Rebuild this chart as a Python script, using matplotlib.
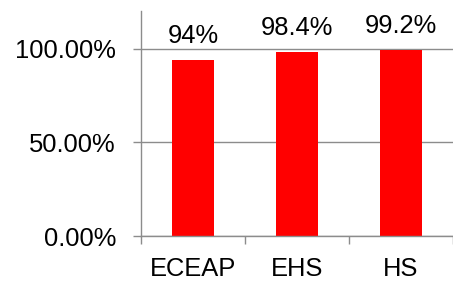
import numpy as np
import matplotlib.pyplot as plt

plt.rcParams['font.family'] = ['Liberation Sans', 'DejaVu Sans']

programs = ['ECEAP', 'EHS', 'HS']
rates = [0.94, 0.984, 0.992]
rate_labels = ['94%', '98.4%', '99.2%']

gray = '#8c8c8c'
fs = 18.4

fig = plt.figure(figsize=(4.53, 2.84), dpi=100)
ax = fig.add_axes([141/453, 1 - 236/284, 312/453, 225/284])

x = np.arange(len(programs))
bars = ax.bar(x, rates, width=0.41, color='#ff0000', zorder=3)

for b, lab in zip(bars, rate_labels):
    ax.annotate(lab, (b.get_x() + b.get_width()/2, b.get_height()),
                xytext=(0, 8.5), textcoords='offset points',
                ha='center', va='bottom', fontsize=fs, color='black')

ax.set_xlim(-0.5, -0.5 + 312/105.3)
ax.set_ylim(0, 1.2)
ax.set_yticks([0, 0.5, 1.0])
ax.set_yticklabels(['0.00%', '50.00%', '100.00%'])
ax.set_xticks(x)
ax.set_xticklabels(programs)
ax.set_xticks([-0.5, 0.5, 1.5, 2.5], minor=True)

ax.tick_params(axis='x', which='major', length=0, pad=15, labelsize=fs)
ax.tick_params(axis='x', which='minor', length=6, width=1, color=gray)
ax.tick_params(axis='y', length=6, width=1, color=gray, pad=12, labelsize=fs)

ax.grid(axis='y', color=gray, linewidth=1, zorder=0)
for s in ['top', 'right']:
    ax.spines[s].set_visible(False)
for s in ['left', 'bottom']:
    ax.spines[s].set_color(gray)
    ax.spines[s].set_linewidth(1)
ax.spines['bottom'].set_zorder(4)

fig.savefig('out.png', dpi=100)
